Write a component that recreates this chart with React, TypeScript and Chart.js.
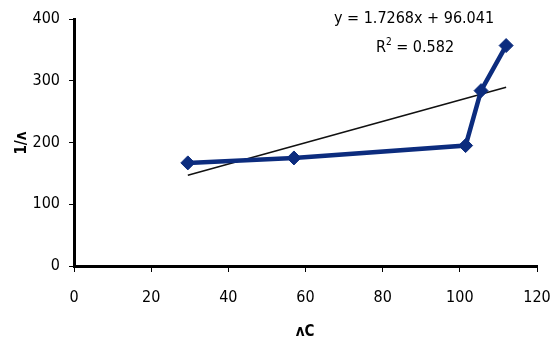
import React, { useEffect, useRef } from "react";
import { Chart, registerables } from "chart.js";

Chart.register(...registerables);

// Measured points
const xValues = [29.5, 57, 101.5, 105.5, 112];
const yValues = [167, 175, 195, 284, 357];

// Linear fit as stated on the chart
const fitSlope = 1.7268;
const fitIntercept = 96.041;
const fitEquation = "y = 1.7268x + 96.041";
const fitR2 = "0.582";

const xTitle = "\u028CC";
const yTitle = "1/\u028C";

const FAMILY = '"DejaVu Sans Condensed", "DejaVu Sans", sans-serif';
const STRETCH = "condensed";

const textPlugin = {
  id: "chartText",
  afterDraw(chart: any) {
    const ctx = chart.ctx as CanvasRenderingContext2D;
    ctx.save();
    ctx.fillStyle = "#000";
    ctx.textAlign = "center";
    ctx.textBaseline = "middle";

    // axis titles
    ctx.font = `${STRETCH} bold 15px ${FAMILY}`;
    ctx.fillText(xTitle, 305, 332);
    ctx.save();
    ctx.translate(22, 143);
    ctx.rotate(-Math.PI / 2);
    ctx.fillText(yTitle, 0, 0);
    ctx.restore();

    // trendline equation
    const big = `${STRETCH} 16px ${FAMILY}`;
    const small = `${STRETCH} 10px ${FAMILY}`;
    ctx.font = big;
    ctx.fillText(fitEquation, 414, 19);
    const r = "R";
    const rest = " = " + fitR2;
    const wR = ctx.measureText(r).width;
    const wRest = ctx.measureText(rest).width;
    ctx.font = small;
    const wSup = ctx.measureText("2").width;
    const total = wR + wSup + wRest;
    const x0 = 415 - total / 2;
    ctx.textAlign = "left";
    ctx.font = big;
    ctx.fillText(r, x0, 48);
    ctx.font = small;
    ctx.fillText("2", x0 + wR, 42);
    ctx.font = big;
    ctx.fillText(rest, x0 + wR + wSup, 48);
    ctx.restore();
  },
};

export default function App() {
  const canvasRef = useRef<HTMLCanvasElement>(null);

  useEffect(() => {
    const canvas = canvasRef.current;
    if (!canvas) return;

    const points = xValues.map((x, i) => ({ x, y: yValues[i] }));
    const xMin = Math.min(...xValues);
    const xMax = Math.max(...xValues);
    const fitPoints = [xMin, xMax].map((x) => ({ x, y: fitSlope * x + fitIntercept }));

    const tickFont = { family: FAMILY, size: 16, style: STRETCH as any };

    const chart = new Chart(canvas, {
      type: "scatter",
      data: {
        datasets: [
          {
            label: "fit",
            data: fitPoints,
            showLine: true,
            borderColor: "#111",
            borderWidth: 1.6,
            pointRadius: 0,
            order: 1,
          },
          {
            label: "data",
            data: points,
            showLine: true,
            borderColor: "#0c2c7e",
            backgroundColor: "#0c2c7e",
            borderWidth: 4.5,
            pointStyle: "rectRot",
            pointRadius: 7,
            pointBorderWidth: 1,
            order: 0,
          },
        ],
      },
      options: {
        responsive: false,
        animation: false,
        devicePixelRatio: 1,
        layout: { padding: { left: 0, top: 19, right: 21, bottom: 0 } },
        plugins: {
          legend: { display: false },
          tooltip: { enabled: false },
        },
        scales: {
          x: {
            type: "linear",
            min: 0,
            max: 120,
            ticks: {
              stepSize: 20,
              color: "#000",
              padding: 16,
              font: tickFont,
            },
            grid: {
              drawOnChartArea: false,
              drawTicks: true,
              tickLength: 6,
              color: "#000",
              lineWidth: 1,
            },
            border: { display: true, color: "#000", width: 3 },
            afterFit(scale: any) {
              scale.height = 83;
              scale.paddingLeft = 0;
              scale.paddingRight = 0;
            },
          },
          y: {
            type: "linear",
            min: 0,
            max: 400,
            ticks: {
              stepSize: 100,
              color: "#000",
              padding: 9,
              font: tickFont,
            },
            grid: {
              drawOnChartArea: false,
              drawTicks: true,
              tickLength: 5,
              color: "#000",
              lineWidth: 1,
            },
            border: { display: true, color: "#000", width: 3 },
            afterFit(scale: any) {
              scale.width = 74;
              scale.paddingTop = 0;
              scale.paddingBottom = 0;
            },
          },
        },
      },
      plugins: [textPlugin],
    });

    return () => chart.destroy();
  }, []);

  return (
    <div style={{ position: "absolute", left: 0, top: 0, width: 558, height: 349, background: "#fff" }}>
      <canvas ref={canvasRef} width={558} height={349} />
    </div>
  );
}
